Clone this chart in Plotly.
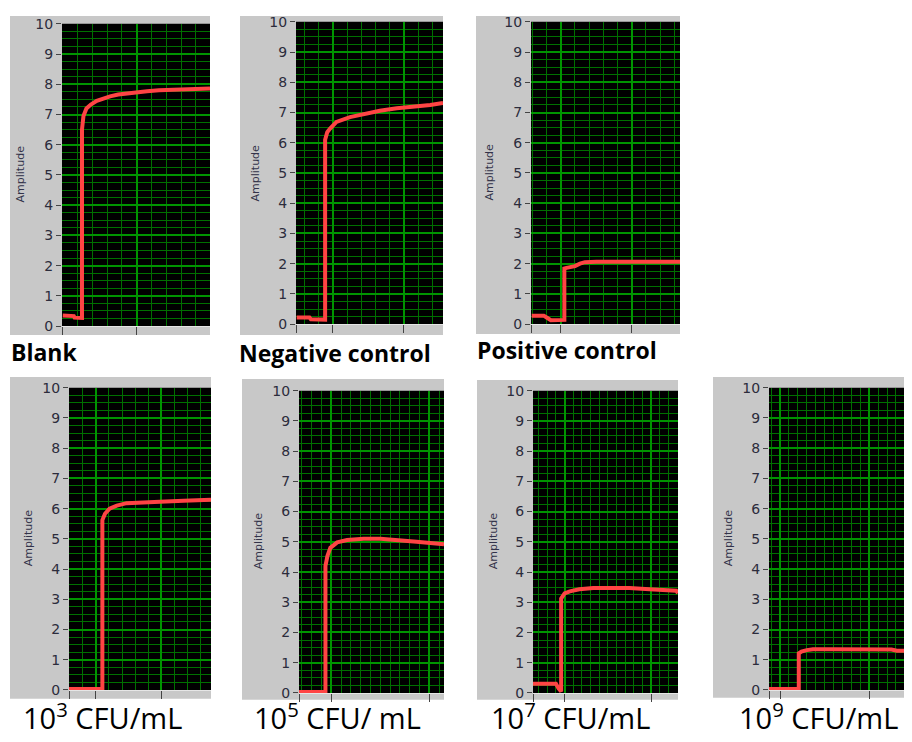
import plotly.graph_objects as go

# page has an 8px body margin; figure covers the rest of the 912x742 window
OFF = 8
W, H = 912 - OFF, 742 - OFF

# ---------------- data (time in major-grid units, amplitude) ----------------
blank_t = [0.0, 0.15, 0.16, 0.25, 0.26, 0.26, 0.28, 0.32, 0.38, 0.46, 0.55, 0.64, 0.75, 0.86, 1.0, 1.14, 1.3, 1.41, 1.55, 1.68, 1.85, 1.99]
blank_amp = [0.35, 0.33, 0.28, 0.27, 0.27, 6.5, 6.95, 7.2, 7.33, 7.45, 7.54, 7.6, 7.66, 7.7, 7.74, 7.77, 7.8, 7.81, 7.83, 7.84, 7.85, 7.86]

neg_t = [0.49, 0.67, 0.69, 0.88, 0.89, 0.89, 0.92, 0.96, 1.05, 1.24, 1.43, 1.66, 1.9, 2.18, 2.37, 2.55]
neg_amp = [0.22, 0.22, 0.16, 0.15, 0.15, 6.1, 6.35, 6.47, 6.69, 6.85, 6.96, 7.06, 7.14, 7.2, 7.25, 7.32]

pos_t = [0.59, 0.76, 0.8, 0.86, 1.05, 1.05, 1.08, 1.2, 1.27, 1.34, 1.5, 1.77, 2.0, 2.23, 2.45, 2.68]
pos_amp = [0.28, 0.28, 0.22, 0.13, 0.14, 1.84, 1.86, 1.92, 2.0, 2.05, 2.06, 2.06, 2.05, 2.06, 2.06, 2.06]

c3_t = [0.59, 1.1, 1.1, 1.14, 1.21, 1.32, 1.47, 1.67, 1.98, 2.34, 2.76]
c3_amp = [0.03, 0.03, 5.62, 5.83, 6.0, 6.1, 6.18, 6.21, 6.23, 6.26, 6.29]

c5_t = [0.67, 0.94, 0.94, 0.96, 0.99, 1.06, 1.16, 1.33, 1.5, 1.7, 1.87, 2.01, 2.15]
c5_amp = [0.03, 0.03, 4.2, 4.53, 4.8, 4.98, 5.06, 5.1, 5.1, 5.06, 5.0, 4.96, 4.92]

c7_t = [0.635, 0.9, 0.93, 0.96, 0.96, 1.0, 1.06, 1.17, 1.33, 1.52, 1.75, 1.98, 2.21, 2.29, 2.31]
c7_amp = [0.3, 0.3, 0.15, 0.05, 3.12, 3.29, 3.36, 3.43, 3.47, 3.48, 3.47, 3.43, 3.39, 3.38, 3.3]

c9_t = [0.876, 1.21, 1.21, 1.24, 1.3, 1.37, 1.6, 1.97, 2.25, 2.31, 2.35, 2.48]
c9_amp = [0.03, 0.03, 1.21, 1.27, 1.32, 1.35, 1.35, 1.35, 1.34, 1.3, 1.3, 1.3]

labels = ["Blank", "Negative control", "Positive control",
          "10<sup>3</sup> CFU/mL", "10<sup>5</sup> CFU/ mL", "10<sup>7</sup> CFU/mL", "10<sup>9</sup> CFU/mL"]
x_ranges = [[-0.01, 1.99], [0.48, 2.55], [0.58, 2.68], [0.59, 2.76], [0.67, 2.15], [0.635, 2.31], [0.876, 2.48]]
x_ticks = [[0, 1], [0.49, 1, 2], [0.59, 1, 2], [0.6, 1, 2], [0.68, 1, 2], [0.645, 1, 2], [0.885, 1, 2]]
x_minor = [0.2, 0.2, 0.2, 0.2, 0.1, 0.1, 0.1]
y_ticks = list(range(0, 11))
series = [(blank_t, blank_amp), (neg_t, neg_amp), (pos_t, pos_amp),
          (c3_t, c3_amp), (c5_t, c5_amp), (c7_t, c7_amp), (c9_t, c9_amp)]

# ---------------- layout geometry (window pixels) ----------------
frames = [(10, 210, 4, 334), (240, 443, 4, 334), (476, 680, 4, 333),
          (10, 211, 377, 706), (242, 444, 379, 707), (477, 678, 380, 707), (713, 912, 377, 705)]
plots = [(62, 210, 16, 325), (296, 443, 14, 323), (531, 680, 14, 323),
         (69, 211, 388, 697), (299, 444, 391, 700), (533, 678, 391, 700), (769, 912, 388, 697)]
amp_pos = [(20, 170), (256, 168), (490, 168), (28, 542), (258, 545), (493, 545), (728, 542)]
label_pos = [(9, 351), (237, 352), (475, 349), (21, 724), (252, 724), (489, 724), (737, 724)]

def px(x):
    return min(max((x - OFF) / W, 0), 1)

def py(y):
    return min(max(1 - (y - OFF) / H, 0), 1)

MAJOR = "#009400"
MINOR = "#007000"

fig = go.Figure()
shapes = []
annotations = []

for i, ((t, a), fr, pl) in enumerate(zip(series, frames, plots)):
    n = i + 1
    xa = "x" if n == 1 else f"x{n}"
    ya = "y" if n == 1 else f"y{n}"
    fig.add_trace(go.Scatter(x=t, y=a, mode="lines", xaxis=xa, yaxis=ya,
                             line=dict(color="#ff4444", width=4), showlegend=False,
                             hoverinfo="skip"))
    xkey = "xaxis" if n == 1 else f"xaxis{n}"
    ykey = "yaxis" if n == 1 else f"yaxis{n}"
    fig.layout[xkey] = dict(
        domain=[px(pl[0]), px(pl[1])], anchor=ya, range=x_ranges[i],
        tickmode="array", tickvals=x_ticks[i], showticklabels=False,
        ticks="outside", ticklen=8, tickcolor="#444444", tickwidth=1,
        showgrid=True, gridcolor=MAJOR, gridwidth=1.5, zeroline=False,
        showline=True, linecolor="#e6e6e6", linewidth=1,
        minor=dict(tickmode="linear", tick0=0, dtick=x_minor[i], showgrid=True,
                   gridcolor=MINOR, gridwidth=1, ticks=""),
        fixedrange=True)
    fig.layout[ykey] = dict(
        domain=[py(pl[3]), py(pl[2])], anchor=xa, range=[0, 10],
        tickmode="array", tickvals=y_ticks, ticktext=[str(v) for v in y_ticks],
        ticks="outside", ticklen=5, tickcolor="#444444", tickwidth=1,
        tickfont=dict(family="DejaVu Sans", size=14, color="#2c2c3c"),
        showgrid=True, gridcolor=MAJOR, gridwidth=1.5, zeroline=False,
        minor=dict(tickmode="linear", tick0=0, dtick=0.25, showgrid=True,
                   gridcolor=MINOR, gridwidth=1, ticks=""),
        fixedrange=True)
    shapes.append(dict(type="rect", xref="paper", yref="paper", layer="below",
                       x0=px(fr[0]), x1=px(fr[1]), y0=py(fr[3]), y1=py(fr[2]),
                       fillcolor="#c8c8c8", line=dict(width=0)))
    shapes.append(dict(type="rect", xref="paper", yref="paper", layer="below",
                       x0=px(pl[0]), x1=px(pl[1]), y0=py(pl[3]), y1=py(pl[2]),
                       fillcolor="black", line=dict(width=0)))
    ax_, ay_ = amp_pos[i]
    annotations.append(dict(text="Amplitude", x=px(ax_), y=py(ay_), xref="paper", yref="paper",
                            textangle=-90, showarrow=False, xanchor="center", yanchor="middle",
                            font=dict(family="DejaVu Sans", size=11, color="#33334a")))
    lx, ly = label_pos[i]
    if i < 3:
        fnt = dict(family="Open Sans", size=23, color="black", weight="bold")
    else:
        fnt = dict(family="Open Sans", size=29, color="black")
    annotations.append(dict(text=labels[i], x=px(lx), y=py(ly), xref="paper", yref="paper",
                            showarrow=False, xanchor="left", yanchor="middle", font=fnt))

fig.update_layout(width=W, height=H, margin=dict(l=0, r=0, t=0, b=0),
                  paper_bgcolor="white", plot_bgcolor="black",
                  shapes=shapes, annotations=annotations)

fig.write_html("out.html")
